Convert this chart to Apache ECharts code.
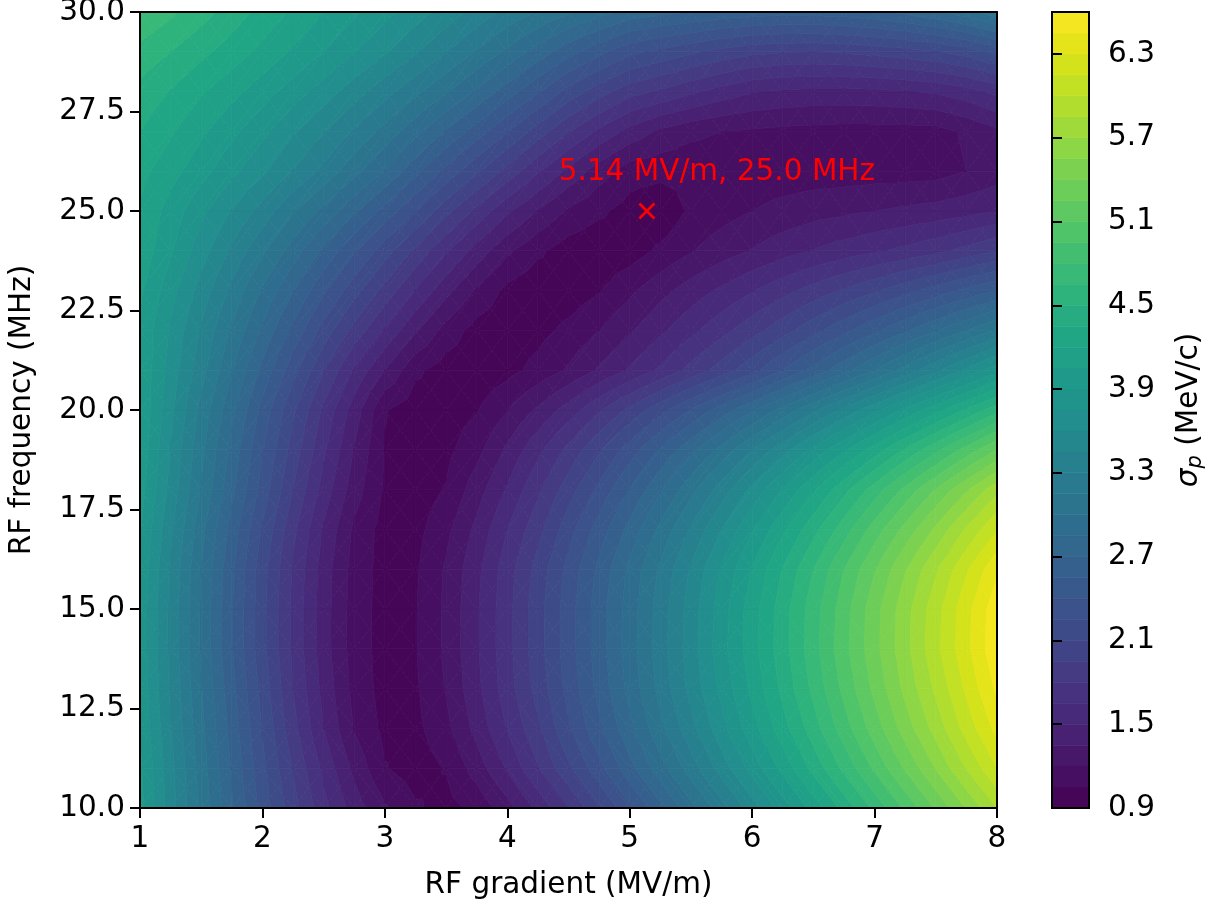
<!DOCTYPE html>
<html>
<head>
<meta charset="utf-8">
<script src="https://cdn.jsdelivr.net/npm/echarts@6/dist/echarts.min.js"></script>
<style>
html,body{margin:0;padding:0;background:#ffffff;}
#chart{width:1214px;height:905px;}
</style>
</head>
<body>
<div id="chart"></div>
<script>
// ---------------- data ----------------
const gradient = [1.00,1.25,1.50,1.75,2.00,2.25,2.50,2.75,3.00,3.25,3.50,3.75,4.00,4.25,4.50,4.75,5.00,5.25,5.50,5.75,6.00,6.25,6.50,6.75,7.00,7.25,7.50,7.75,8.00];
const frequency = [10,11,12,13,14,15,16,17,18,19,20,21,22,23,24,25,26,27,28,29,30];

// sigma_p (MeV/c) along each frequency row, one value per gradient column
const sigma_f10 = [3.95,3.52,3.11,2.72,2.34,2.01,1.70,1.43,1.22,1.07,1.00,1.09,1.29,1.54,1.80,2.08,2.37,2.66,2.95,3.24,3.53,3.82,4.11,4.40,4.69,4.98,5.27,5.56,5.85];
const sigma_f11 = [3.93,3.50,3.08,2.68,2.29,1.94,1.61,1.31,1.06,0.98,1.06,1.27,1.52,1.79,2.07,2.35,2.65,2.94,3.23,3.52,3.81,4.10,4.40,4.69,4.98,5.27,5.56,5.86,6.15];
const sigma_f12 = [3.88,3.46,3.04,2.64,2.24,1.85,1.50,1.19,1.01,1.01,1.16,1.40,1.66,1.92,2.23,2.52,2.81,3.11,3.40,3.70,3.99,4.29,4.58,4.88,5.17,5.47,5.76,6.06,6.35];
const sigma_f13 = [3.86,3.43,3.01,2.60,2.19,1.80,1.45,1.15,0.99,1.03,1.21,1.46,1.73,2.01,2.30,2.60,2.90,3.20,3.50,3.79,4.09,4.39,4.69,4.99,5.29,5.59,5.88,6.18,6.48];
const sigma_f14 = [3.85,3.41,2.98,2.56,2.15,1.77,1.42,1.13,0.99,1.04,1.23,1.48,1.75,2.04,2.33,2.63,2.93,3.23,3.53,3.84,4.14,4.44,4.74,5.05,5.35,5.65,5.96,6.26,6.57];
const sigma_f15 = [3.85,3.41,2.98,2.56,2.15,1.77,1.42,1.13,0.99,1.04,1.23,1.48,1.75,2.04,2.33,2.63,2.92,3.22,3.52,3.83,4.13,4.43,4.73,5.03,5.34,5.64,5.94,6.25,6.55];
const sigma_f16 = [3.87,3.43,3.00,2.58,2.16,1.78,1.43,1.14,0.99,1.03,1.22,1.46,1.73,2.01,2.30,2.59,2.89,3.18,3.47,3.77,4.06,4.36,4.65,4.95,5.24,5.54,5.83,6.13,6.42];
const sigma_f17 = [3.91,3.48,3.05,2.64,2.23,1.84,1.48,1.17,0.99,1.00,1.16,1.39,1.65,1.90,2.19,2.47,2.75,3.04,3.32,3.60,3.89,4.17,4.45,4.73,5.02,5.30,5.58,5.87,6.15];
const sigma_f18 = [3.97,3.55,3.14,2.74,2.34,1.95,1.59,1.27,1.03,0.98,1.06,1.28,1.52,1.77,2.03,2.29,2.56,2.83,3.10,3.37,3.64,3.91,4.18,4.45,4.72,4.99,5.26,5.53,5.80];
const sigma_f19 = [4.01,3.59,3.19,2.80,2.41,2.04,1.68,1.34,1.04,0.96,1.01,1.15,1.38,1.61,1.84,2.08,2.32,2.57,2.81,3.05,3.30,3.54,3.79,4.03,4.27,4.52,4.76,5.01,5.25];
const sigma_f20 = [4.03,3.64,3.25,2.89,2.50,2.13,1.77,1.43,1.06,0.97,0.98,1.04,1.20,1.38,1.57,1.78,1.99,2.20,2.41,2.62,2.83,3.05,3.27,3.49,3.71,3.93,4.15,4.37,4.60];
const sigma_f21 = [4.03,3.69,3.36,3.01,2.66,2.31,1.96,1.63,1.35,1.08,0.98,0.95,1.00,1.10,1.22,1.37,1.52,1.68,1.85,2.02,2.20,2.40,2.60,2.80,3.00,3.21,3.42,3.63,3.85];
const sigma_f22 = [4.02,3.73,3.43,3.13,2.82,2.51,2.19,1.90,1.63,1.37,1.14,0.99,0.95,1.00,1.09,1.20,1.33,1.47,1.61,1.75,1.89,2.04,2.20,2.36,2.52,2.68,2.84,3.00,3.17];
const sigma_f23 = [4.08,3.81,3.54,3.26,2.98,2.71,2.43,2.16,1.90,1.64,1.40,1.18,1.01,0.94,0.96,1.04,1.17,1.30,1.42,1.53,1.64,1.75,1.86,1.97,2.08,2.20,2.32,2.44,2.55];
const sigma_f24 = [4.16,3.92,3.67,3.42,3.18,2.93,2.67,2.42,2.17,1.92,1.67,1.44,1.23,1.08,0.97,0.94,0.97,1.08,1.19,1.28,1.36,1.44,1.51,1.57,1.63,1.69,1.76,1.85,1.95];
const sigma_f25 = [4.18,3.99,3.79,3.59,3.39,3.17,2.96,2.73,2.50,2.26,2.00,1.76,1.53,1.34,1.18,1.08,0.99,0.92,1.08,1.14,1.20,1.25,1.29,1.32,1.35,1.38,1.41,1.45,1.50];
const sigma_f26 = [4.25,4.11,3.96,3.79,3.63,3.44,3.26,3.05,2.84,2.60,2.36,2.13,1.90,1.67,1.46,1.27,1.12,1.10,1.09,1.09,1.10,1.11,1.12,1.12,1.13,1.13,1.14,1.20,1.27];
const sigma_f27 = [4.35,4.22,4.08,3.94,3.79,3.62,3.46,3.28,3.10,2.90,2.69,2.48,2.26,2.03,1.81,1.62,1.45,1.32,1.24,1.20,1.18,1.16,1.15,1.14,1.14,1.14,1.15,1.22,1.32];
const sigma_f28 = [4.45,4.34,4.22,4.10,3.97,3.83,3.68,3.52,3.36,3.19,3.02,2.83,2.63,2.42,2.20,2.02,1.86,1.78,1.68,1.59,1.51,1.48,1.46,1.46,1.47,1.49,1.52,1.59,1.69];
const sigma_f29 = [4.60,4.50,4.39,4.28,4.16,4.03,3.90,3.76,3.62,3.47,3.31,3.14,2.97,2.79,2.61,2.45,2.29,2.21,2.13,2.05,1.99,1.96,1.95,1.97,2.00,2.04,2.09,2.17,2.30];
const sigma_f30 = [4.80,4.68,4.56,4.43,4.30,4.18,4.05,3.93,3.80,3.67,3.54,3.40,3.26,3.14,3.02,2.91,2.80,2.74,2.70,2.65,2.62,2.61,2.61,2.63,2.67,2.74,2.83,2.95,3.11];

const sigmaRows = [sigma_f10,sigma_f11,sigma_f12,sigma_f13,sigma_f14,sigma_f15,sigma_f16,sigma_f17,sigma_f18,sigma_f19,sigma_f20,
                   sigma_f21,sigma_f22,sigma_f23,sigma_f24,sigma_f25,sigma_f26,sigma_f27,sigma_f28,sigma_f29,sigma_f30];

// contour levels and colour-bar ticks
const levels = [0.90,1.05,1.20,1.35,1.50,1.65,1.80,1.95,2.10,2.25,2.40,2.55,2.70,2.85,3.00,3.15,3.30,3.45,3.60,3.75,
                3.90,4.05,4.20,4.35,4.50,4.65,4.80,4.95,5.10,5.25,5.40,5.55,5.70,5.85,6.00,6.15,6.30,6.45,6.60];
const colorbarTicks = [0.9,1.5,2.1,2.7,3.3,3.9,4.5,5.1,5.7,6.3];

// marked optimum (MV/m, MHz)
const optimum = [5.14, 25.0];

// ---------------- styling helpers ----------------
const FONT = 'DejaVu Sans';
const FS = 29.5;
const VIRIDIS = ['#440154','#471365','#482475','#463480','#414487','#3b528b','#355f8d','#2f6c8e','#2a788e','#25848e',
                 '#21918c','#1e9c89','#22a884','#2fb47c','#44bf70','#5ec962','#7ad151','#9bd93c','#bddf26','#dfe318','#fde725'];
function hex2rgb(h){return [parseInt(h.slice(1,3),16),parseInt(h.slice(3,5),16),parseInt(h.slice(5,7),16)];}
function viridis(t){
  t = Math.max(0, Math.min(1, t));
  const n = VIRIDIS.length - 1;
  const k = Math.min(n - 1, Math.floor(t * n));
  const f = t * n - k;
  const a = hex2rgb(VIRIDIS[k]), b = hex2rgb(VIRIDIS[k + 1]);
  const c = a.map((v, i) => Math.round(v + (b[i] - v) * f));
  return 'rgb(' + c.join(',') + ')';
}
const vMin = levels[0], vMax = levels[levels.length - 1];
const bandColors = levels.slice(0, -1).map((lo, k) => viridis(((lo + levels[k + 1]) / 2 - vMin) / (vMax - vMin)));

// clip a polygon whose vertices carry a value [x, y, v] against v >= level (above) or v <= level
function clipPoly(poly, level, above){
  const out = [];
  for (let i = 0; i < poly.length; i++){
    const a = poly[i], b = poly[(i + 1) % poly.length];
    const ina = above ? a[2] >= level : a[2] <= level;
    const inb = above ? b[2] >= level : b[2] <= level;
    if (ina) out.push(a);
    if (ina !== inb){
      const t = (level - a[2]) / (b[2] - a[2]);
      out.push([a[0] + t * (b[0] - a[0]), a[1] + t * (b[1] - a[1]), level]);
    }
  }
  return out;
}

// grid cells of the data
const cells = [];
for (let j = 0; j < frequency.length - 1; j++){
  for (let i = 0; i < gradient.length - 1; i++){
    cells.push([gradient[i], frequency[j], i, j]);
  }
}

function renderCell(params, api){
  const i = api.value(2), j = api.value(3);
  const x0 = gradient[i], x1 = gradient[i + 1], y0 = frequency[j], y1 = frequency[j + 1];
  const r0 = sigmaRows[j], r1 = sigmaRows[j + 1];
  const p = [[x0, y0, r0[i]], [x1, y0, r0[i + 1]], [x1, y1, r1[i + 1]], [x0, y1, r1[i]]];
  const c = [(x0 + x1) / 2, (y0 + y1) / 2, (p[0][2] + p[1][2] + p[2][2] + p[3][2]) / 4];
  const children = [];
  for (let k = 0; k < 4; k++){
    const tri = [c, p[k], p[(k + 1) % 4]];
    const tmin = Math.min(tri[0][2], tri[1][2], tri[2][2]);
    const tmax = Math.max(tri[0][2], tri[1][2], tri[2][2]);
    for (let b = 0; b < levels.length - 1; b++){
      const lo = levels[b], hi = levels[b + 1];
      if (hi < tmin || lo > tmax) continue;
      let poly = clipPoly(tri, lo, true);
      if (poly.length < 3) continue;
      poly = clipPoly(poly, hi, false);
      if (poly.length < 3) continue;
      children.push({
        type: 'polygon',
        shape: {points: poly.map(q => api.coord([q[0], q[1]]))},
        style: {fill: bandColors[b], stroke: bandColors[b], lineWidth: 0.8}
      });
    }
  }
  return {type: 'group', children: children};
}

const bandData = levels.slice(0, -1).map((lo, k) => [0.5, (lo + levels[k + 1]) / 2, k]);

const axisLineStyle = {color: '#000', width: 2};
const labelStyle = {fontFamily: FONT, fontSize: FS, color: '#000'};

const chart = echarts.init(document.getElementById('chart'), null, {renderer: 'canvas'});
chart.setOption({
  animation: false,
  backgroundColor: '#ffffff',
  textStyle: {fontFamily: FONT},
  grid: [
    {left: 140, top: 12, width: 857, height: 796, containLabel: false, outerBoundsMode: 'none'},
    {left: 1052, top: 12, width: 37, height: 796, containLabel: false, outerBoundsMode: 'none'}
  ],
  xAxis: [
    {type: 'value', gridIndex: 0, min: 1, max: 8, interval: 1, position: 'bottom', z: 10,
     name: 'RF gradient (MV/m)', nameLocation: 'middle', nameGap: 62,
     nameTextStyle: Object.assign({}, labelStyle),
     axisLine: {show: true, onZero: false, lineStyle: axisLineStyle},
     axisTick: {show: true, inside: false, length: 10, lineStyle: axisLineStyle},
     axisLabel: Object.assign({margin: 16, formatter: v => String(v)}, labelStyle),
     splitLine: {show: false}},
    {type: 'value', gridIndex: 0, min: 1, max: 8, position: 'top', z: 10,
     axisLine: {show: true, onZero: false, lineStyle: axisLineStyle},
     axisTick: {show: false}, axisLabel: {show: false}, splitLine: {show: false}},
    {type: 'value', gridIndex: 1, min: 0, max: 1, show: false, splitLine: {show: false}}
  ],
  yAxis: [
    {type: 'value', gridIndex: 0, min: 10, max: 30, interval: 2.5, position: 'left', z: 10,
     name: 'RF frequency (MHz)', nameLocation: 'middle', nameGap: 103,
     nameTextStyle: Object.assign({}, labelStyle),
     axisLine: {show: true, onZero: false, lineStyle: axisLineStyle},
     axisTick: {show: true, inside: false, length: 10, lineStyle: axisLineStyle},
     axisLabel: Object.assign({margin: 15, formatter: v => v.toFixed(1)}, labelStyle),
     splitLine: {show: false}},
    {type: 'value', gridIndex: 0, min: 10, max: 30, position: 'right', z: 10,
     axisLine: {show: true, onZero: false, lineStyle: axisLineStyle},
     axisTick: {show: false}, axisLabel: {show: false}, splitLine: {show: false}},
    {type: 'value', gridIndex: 1, min: vMin, max: vMax, position: 'right', z: 10,
     name: '{s|σ}{p|p}{n| (MeV/c)}', nameLocation: 'middle', nameGap: 84, nameRotate: 90,
     nameTextStyle: {
       fontFamily: FONT, fontSize: FS, color: '#000',
       rich: {
         s: {fontFamily: FONT, fontSize: FS, fontStyle: 'italic', color: '#000'},
         p: {fontFamily: FONT, fontSize: 21, fontStyle: 'italic', color: '#000', padding: [12, 0, 0, 0]},
         n: {fontFamily: FONT, fontSize: FS, color: '#000'}
       }
     },
     axisLine: {show: false},
     axisTick: {show: true, inside: false, length: 10, lineStyle: axisLineStyle, customValues: colorbarTicks},
     axisLabel: Object.assign({margin: 19, customValues: colorbarTicks, formatter: v => Number(v).toFixed(1)}, labelStyle),
     splitLine: {show: false}}
  ],
  series: [
    {type: 'custom', name: 'sigma_p', coordinateSystem: 'cartesian2d', xAxisIndex: 0, yAxisIndex: 0,
     data: cells, encode: {x: 0, y: 1}, renderItem: renderCell, clip: true, silent: true, z: 2},
    {type: 'custom', name: 'optimum', coordinateSystem: 'cartesian2d', xAxisIndex: 0, yAxisIndex: 0,
     data: [optimum], encode: {x: 0, y: 1}, silent: true, z: 5,
     renderItem: function(params, api){
       const pt = api.coord([api.value(0), api.value(1)]);
       const s = 7.5;
       const txt = api.value(0).toFixed(2) + ' MV/m, ' + api.value(1).toFixed(1) + ' MHz';
       return {type: 'group', children: [
         {type: 'line', shape: {x1: pt[0] - s, y1: pt[1] - s, x2: pt[0] + s, y2: pt[1] + s}, style: {stroke: '#ff0000', lineWidth: 2.5}},
         {type: 'line', shape: {x1: pt[0] - s, y1: pt[1] + s, x2: pt[0] + s, y2: pt[1] - s}, style: {stroke: '#ff0000', lineWidth: 2.5}},
         {type: 'text', x: pt[0] + 70, y: pt[1] - 39,
          style: {text: txt, fill: '#ff0000', fontFamily: FONT, fontSize: FS, align: 'center', verticalAlign: 'middle'}}
       ]};
     }},
    {type: 'custom', name: 'colorbar', coordinateSystem: 'cartesian2d', xAxisIndex: 2, yAxisIndex: 2,
     data: bandData, encode: {x: 0, y: 1}, silent: true, z: 2,
     renderItem: function(params, api){
       const k = api.value(2);
       const a = api.coord([0, levels[k]]), b = api.coord([1, levels[k + 1]]);
       return {type: 'rect', shape: {x: a[0], y: b[1], width: b[0] - a[0], height: a[1] - b[1]},
               style: {fill: bandColors[k], stroke: bandColors[k], lineWidth: 0.6}};
     }},
    {type: 'custom', name: 'colorbar-outline', coordinateSystem: 'cartesian2d', xAxisIndex: 2, yAxisIndex: 2,
     data: [[0.5, (vMin + vMax) / 2]], encode: {x: 0, y: 1}, silent: true, z: 6,
     renderItem: function(params, api){
       const a = api.coord([0, vMin]), b = api.coord([1, vMax]);
       return {type: 'rect', shape: {x: a[0], y: b[1], width: b[0] - a[0], height: a[1] - b[1]},
               style: {fill: 'none', stroke: '#000', lineWidth: 2}};
     }}
  ]
});
</script>
</body>
</html>
